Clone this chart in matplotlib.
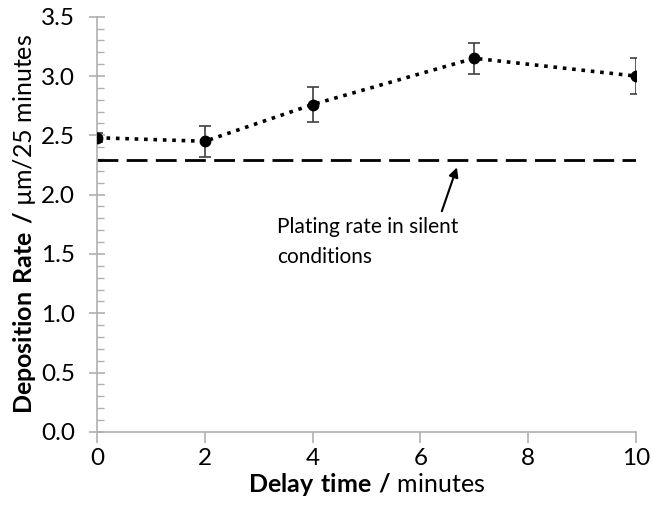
import numpy as np
import matplotlib
matplotlib.use("Agg")
import matplotlib.pyplot as plt
from matplotlib.ticker import MultipleLocator, FormatStrFormatter

# data
delay = [0, 2, 4, 7, 10]
rate = [2.48, 2.45, 2.76, 3.15, 3.00]
rate_err = [0.04, 0.13, 0.15, 0.13, 0.15]
silent_rate = 2.29

plt.rcParams['font.family'] = ['Lato', 'DejaVu Sans']
plt.rcParams['mathtext.fontset'] = 'custom'
plt.rcParams['mathtext.rm'] = 'Lato'
plt.rcParams['mathtext.bf'] = 'Lato:bold'

fig = plt.figure(figsize=(6.52, 5.08), dpi=100)
ax = fig.add_axes([0.149, 0.150, 0.826, 0.817])

ax.errorbar(delay, rate, yerr=rate_err, fmt='o', color='black', ms=7.5,
            ecolor='#404040', elinewidth=1.2, capsize=4, capthick=1.2, zorder=3)
ax.plot(delay, rate, linestyle=(0, (1, 1.6)), color='black', lw=2.6, zorder=2)
ax.axhline(silent_rate, color='black', lw=2, linestyle=(0, (7.5, 3)), zorder=2)

# label and arrow
ax.text(3.34, 1.81, "Plating rate in silent\nconditions", fontsize=15,
        ha='left', va='top', linespacing=1.6)
ax.annotate("", xy=(6.68, 2.23), xytext=(6.4, 1.86),
            arrowprops=dict(arrowstyle='-|>', color='black', lw=1.5,
                            mutation_scale=14, shrinkA=0, shrinkB=0))

ax.set_xlim(0, 10)
ax.set_ylim(0, 3.5)
ax.xaxis.set_major_locator(MultipleLocator(2))
ax.yaxis.set_major_locator(MultipleLocator(0.5))
ax.yaxis.set_minor_locator(MultipleLocator(0.1))
ax.yaxis.set_major_formatter(FormatStrFormatter('%.1f'))

for s in ['top', 'right']:
    ax.spines[s].set_visible(False)
for s in ['left', 'bottom']:
    ax.spines[s].set_color('#b0b0b0')
    ax.spines[s].set_linewidth(1.2)

ax.tick_params(axis='x', which='major', direction='out', length=8, color='#b0b0b0',
               width=1.2, labelsize=17.5, pad=4)
ax.tick_params(axis='y', which='major', direction='inout', length=12, color='#b0b0b0',
               width=1.2, labelsize=17.5, pad=10)
ax.tick_params(axis='y', which='minor', direction='in', length=5, color='#b0b0b0', width=1)

ax.set_xlabel(r"$\mathbf{Delay\ time\ /}$ minutes", fontsize=18, labelpad=1)
ax.set_ylabel(r"$\mathbf{Deposition\ Rate\ /}$ µm/25 minutes", fontsize=18, labelpad=2)

fig.savefig("out.png", dpi=100)
